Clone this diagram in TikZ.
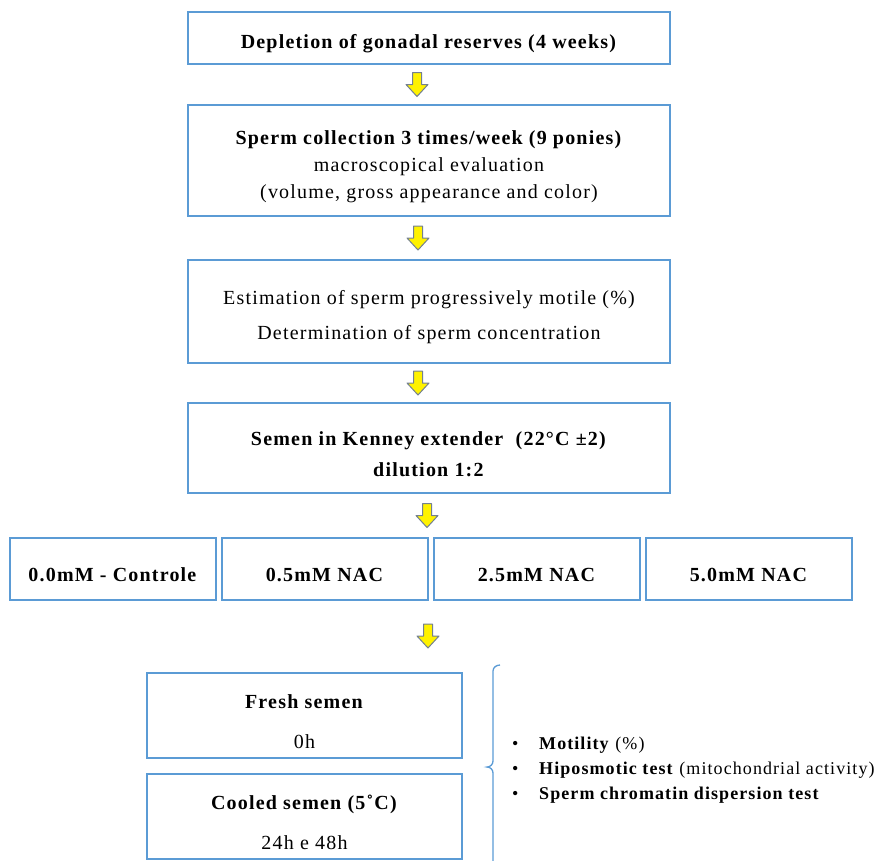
\documentclass[tikz,border=0pt]{standalone}
\usepackage{fontspec}
\setmainfont[LetterSpace=6]{Liberation Serif}
\usetikzlibrary{calc}
\definecolor{boxblue}{RGB}{91,155,213}
\definecolor{arrowgray}{RGB}{115,128,145}

\tikzset{
  box/.style={draw=boxblue, line width=1.3pt, align=center, inner sep=0pt,
    minimum width=482pt, font=\fontsize{20}{28}\selectfont},
  dosebox/.style={box, minimum width=206pt, minimum height=62pt},
  timebox/.style={box, minimum width=315pt, minimum height=85pt},
  pics/yarrow/.style={code={
    \filldraw[fill=yellow, draw=arrowgray, line width=1pt, line join=round]
      (-4.5,-12) -- (4.5,-12) -- (4.5,0) -- (11,0) -- (0,12) -- (-11,0) -- (-4.5,0) -- cycle;
  }},
  brace/.style={draw=boxblue, line width=1.3pt},
  listtext/.style={anchor=base west, inner sep=0pt, font=\fontsize{18}{20}\selectfont}
}
\newcommand{\lowline}{\rule{0pt}{26pt}}

\begin{document}
\begin{tikzpicture}[x=1pt,y=-1pt]
\useasboundingbox (0,0) rectangle (883,860);

\node[box, minimum height=52pt] (depletion) at (429,38) {\lowline\textbf{Depletion of gonadal reserves (4 weeks)}};
\node[box, minimum height=111pt, font=\fontsize{20}{27}\selectfont] (collection) at (429,160.5)
  {\lowline\textbf{Sperm collection 3 times/week (9 ponies)}\\macroscopical evaluation\\(volume, gross appearance and color)};
\node[box, minimum height=103pt] (estimation) at (429,311.5)
  {\lowline Estimation of sperm progressively motile (\%)\\[7pt]Determination of sperm concentration};
\node[box, minimum height=90pt] (kenney) at (429,448)
  {\lowline\textbf{Semen in Kenney extender\ \ (22°C ±2)}\\[3pt]\textbf{dilution 1:2}};

\node[dosebox] (control) at (113,569) {\lowline\textbf{0.0mM - Controle}};
\node[dosebox] (nac05) at (325,569) {\lowline\textbf{0.5mM NAC}};
\node[dosebox] (nac25) at (537,569) {\lowline\textbf{2.5mM NAC}};
\node[dosebox] (nac50) at (749,569) {\lowline\textbf{5.0mM NAC}};

\node[timebox] (fresh) at (304.5,715.5) {\lowline\textbf{Fresh semen}\\[12pt]0h};
\node[timebox] (cooled) at (304.5,816.5) {\lowline\textbf{Cooled semen (5˚C)}\\[12pt]24h e 48h};

\coordinate (a1) at ($(depletion.south)!0.5!(collection.north)+(-12,0)$);
\coordinate (a2) at ($(collection.south)!0.5!(estimation.north)+(-11,0)$);
\coordinate (a3) at ($(estimation.south)!0.5!(kenney.north)+(-11,0)$);
\coordinate (a4) at ($(kenney.south)!0.5!(kenney.south |- nac05.north)+(-2,0)$);
\coordinate (a5) at (428,636);
\pic at (a1) {yarrow};
\pic at (a2) {yarrow};
\pic at (a3) {yarrow};
\pic at (a4) {yarrow};
\pic at (a5) {yarrow};

\coordinate (bracetop) at (500,665);
\coordinate (bracetip) at (487,767);
\draw[brace] (bracetop) to[out=180,in=90] (493,671) -- (493,761)
  to[out=270,in=0] (bracetip) to[out=0,in=90] (493,773) -- (493,865);

\foreach \y/\name/\txt in {749/motility/{\textbf{Motility} (\%)},
                          774/hipo/{\textbf{Hiposmotic test} (mitochondrial activity)},
                          799/chromatin/{\textbf{Sperm chromatin dispersion test}}}{
  \node[listtext] at (512,\y) {•};
  \node[listtext] (\name) at (539,\y) {\txt};
}
\end{tikzpicture}
\end{document}
